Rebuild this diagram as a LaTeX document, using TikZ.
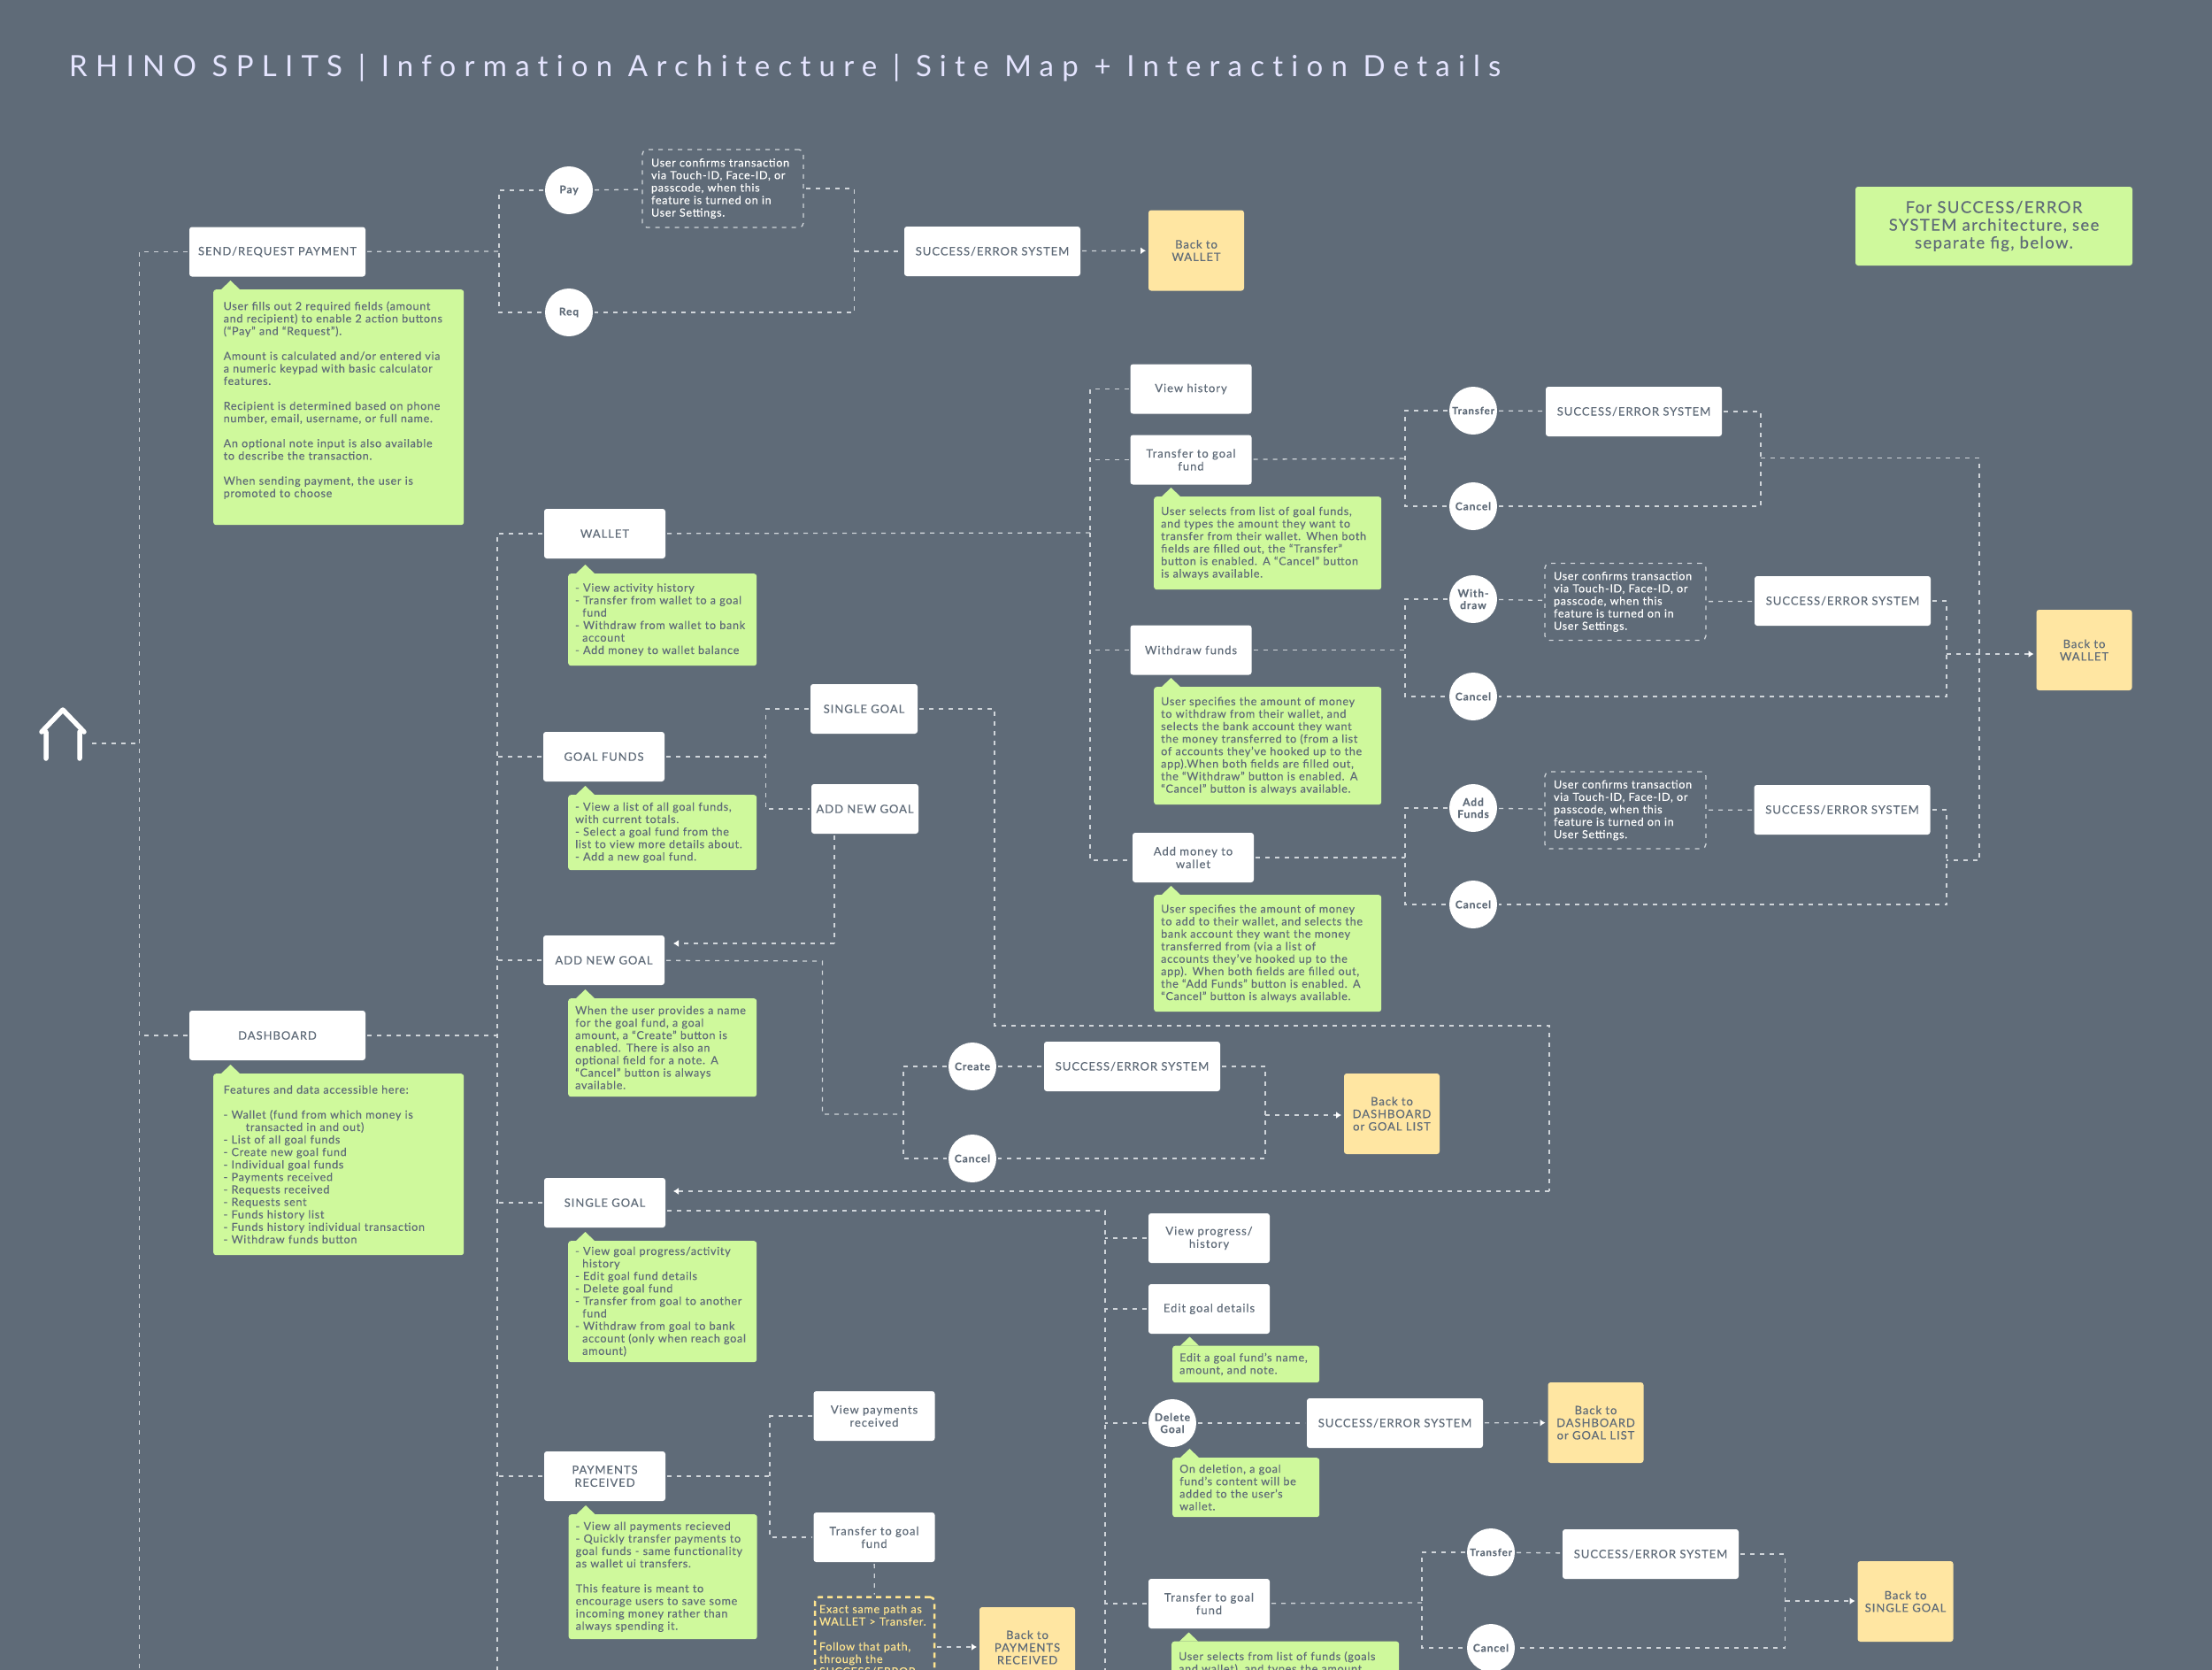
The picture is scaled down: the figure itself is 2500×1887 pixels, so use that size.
\documentclass[tikz,border=0pt]{standalone}
\usepackage{fontspec}
\setmainfont{Lato}[LetterSpace=5.5,FakeBold=0.15]
\newfontfamily\labelfont{Lato}[LetterSpace=7.5,FakeBold=0.15]
\newfontfamily\titlefont{Lato}[LetterSpace=28,Ligatures=NoCommon]
\definecolor{bgslate}{HTML}{5F6B78}
\definecolor{linegray}{HTML}{D0D5DA}
\definecolor{notegreen}{HTML}{CFF99C}
\definecolor{backyellow}{HTML}{FFE6A2}
\definecolor{dashyellow}{HTML}{FFE58F}
\newcommand{\ind}{\hspace*{8pt}}
\newcommand{\tip}[1]{\fill[notegreen] ([xshift=9pt]#1.north west) -- ++(10.5,-10) -- ++(10.5,10) -- cycle;}
\usetikzlibrary{arrows.meta}
\tikzset{
    link/.style={draw=linegray, line width=1.3pt, dash pattern=on 5pt off 6pt},
    linkarrow/.style={link, -{Latex[length=6pt,width=8pt,color=white]}, shorten >=1pt},
    pagebox/.style={fill=white, rounded corners=3pt, text=bgslate, align=center, font=\labelfont\fontsize{13}{14.5}\selectfont, inner sep=0pt, outer sep=2pt, minimum height=56pt},
    wide/.style={pagebox, minimum width=199pt},
    mid/.style={pagebox, minimum width=137pt},
    small/.style={pagebox, minimum width=121pt},
    actionc/.style={circle, fill=white, text=bgslate, align=center, font=\labelfont\fontsize{12}{13.5}\selectfont\bfseries, inner sep=0pt, outer sep=2pt, minimum size=54pt},
    backbox/.style={fill=backyellow, rounded corners=3pt, text=bgslate, align=center, font=\labelfont\fontsize{13}{14.2}\selectfont, inner sep=0pt, outer sep=2pt, minimum width=108pt, minimum height=91pt},
    notebox/.style 2 args={fill=notegreen, rounded corners=3pt, text=bgslate, align=left, anchor=north west, font=\fontsize{12.6}{14.1}\selectfont, inner xsep=8pt, inner ysep=0pt, text width=#1, minimum height=#2},
    confirm/.style={link, rounded corners=5pt, text=white, align=left, font=\fontsize{12.6}{14.1}\selectfont, inner xsep=10pt, inner ysep=0pt, text width=162pt, minimum height=87pt, outer sep=3pt}
}
\begin{document}
\begin{tikzpicture}[x=1pt, y=-1pt]
        \useasboundingbox (0,0) rectangle (2500,1887);
        \clip (0,0) rectangle (2500,1887);
        \fill[bgslate] (0,0) rectangle (2500,1887);
        \node[anchor=base west, inner sep=0pt, text=white!90!blue, font=\titlefont\fontsize{33}{36}\selectfont] (title) at (78,86) {RHINO SPLITS | Information Architecture | Site Map + Interaction Details};

        \draw[white, line width=5.5pt, line cap=round, line join=round] (52,857) -- (52,827) (90,857) -- (90,827) (47,827) -- (71,802) -- (95,827);
        \coordinate (home) at (104,840);
        \coordinate (rail) at (157.5,840);
        \coordinate (railend) at (157.5,1887);
        \coordinate (dash) at (562,1170);
        \coordinate (dashend) at (562,1887);
        \coordinate (goalrail) at (1249,1368);
        \coordinate (goalend) at (1249,1887);

        \node[wide] (send) at (313.5,284.5) {SEND/REQUEST PAYMENT};
        \node[notebox={260pt}{266pt}, inner xsep=11.5pt] (sendnote) at (241,327) {User fills out 2 required fields (amount\\and recipient) to enable 2 action buttons\\(“Pay” and “Request”).\\[14.1pt]Amount is calculated and/or entered via\\a numeric keypad with basic calculator\\features.\\[14.1pt]Recipient is determined based on phone\\number, email, username, or full name.\\[14.1pt]An optional note input is also available\\to describe the transaction.\\[14.1pt]When sending payment, the user is\\promoted to choose\\[4pt]~};
        \tip{sendnote}
        \node[actionc] (pay) at (643,215) {Pay};
        \node[actionc] (req) at (643,353) {Req};
        \node[confirm, minimum height=88pt] (payok) at (817,213) {User confirms transaction\\via Touch-ID, Face-ID, or\\passcode, when this\\feature is turned on in\\User Settings.};
        \node[wide] (sendses) at (1121.5,284) {SUCCESS/ERROR SYSTEM};
        \node[backbox] (sendback) at (1352,283) {Back to\\WALLET};
        \node[fill=notegreen, rounded corners=3pt, text=bgslate, align=center, font=\labelfont\fontsize{18.5}{20}\selectfont, inner sep=0pt, minimum width=313pt, minimum height=89pt] (sesnote) at (2253.5,255.5) {For SUCCESS/ERROR\\SYSTEM architecture, see\\separate fig, below.};

        \coordinate (jsend) at (564,284);
        \coordinate (jsendr) at (965.5,284);
        \draw[link] (home) -- (rail);
        \draw[link] (send) -| (rail) -- (railend);
        \draw[link] (send) -- (jsend);
        \draw[link] (pay) -| (jsend) |- (req);
        \draw[link] (pay) -- (payok);
        \draw[link] (payok) -| (jsendr) |- (req);
        \draw[link] (jsendr) -- (sendses);
        \draw[linkarrow] (sendses) -- (sendback);

        \node[mid] (wallet) at (683.5,603) {WALLET};
        \node[notebox={197pt}{104pt}] (walletnote) at (642,648) {- View activity history\\- Transfer from wallet to a goal\\\ind fund\\- Withdraw from wallet to bank\\\ind account\\- Add money to wallet balance};
        \tip{walletnote}
        \node[mid] (goalfunds) at (682.5,855) {GOAL FUNDS};
        \node[notebox={197pt}{85pt}] (fundsnote) at (642,898) {- View a list of all goal funds,\\with current totals.\\- Select a goal fund from the\\list to view more details about.\\- Add a new goal fund.};
        \tip{fundsnote}
        \node[small] (single) at (976.5,801) {SINGLE GOAL};
        \node[small] (addnew) at (977.5,914) {ADD NEW GOAL};
        \node[mid] (newgoal) at (682.5,1085) {ADD NEW GOAL};
        \node[notebox={197pt}{111pt}] (newnote) at (642,1128) {When the user provides a name\\for the goal fund, a goal\\amount, a “Create” button is\\enabled. There is also an\\optional field for a note. A\\“Cancel” button is always\\available.};
        \tip{newnote}
        \node[wide] (dashboard) at (313.5,1170) {DASHBOARD};
        \node[notebox={260pt}{205pt}, inner xsep=11.5pt] (dashnote) at (241,1213) {Features and data accessible here:\\[14.1pt]- Wallet (fund from which money is\\\hspace*{25pt}transacted in and out)\\- List of all goal funds\\- Create new goal fund\\- Individual goal funds\\- Payments received\\- Requests received\\- Requests sent\\- Funds history list\\- Funds history individual transaction\\- Withdraw funds button};
        \tip{dashnote}
        \node[mid] (singlegoal) at (683.5,1359) {SINGLE GOAL};
        \node[notebox={197pt}{137pt}] (singlenote) at (642,1402) {- View goal progress/activity\\\ind history\\- Edit goal fund details\\- Delete goal fund\\- Transfer from goal to another\\\ind fund\\- Withdraw from goal to bank\\\ind account (only when reach goal\\\ind amount)};
        \tip{singlenote}
        \node[mid] (payments) at (683.5,1668) {PAYMENTS\\RECEIVED};
        \node[notebox={197pt}{141pt}] (paynote) at (642.5,1711) {- View all payments recieved\\- Quickly transfer payments to\\goal funds - same functionality\\as wallet ui transfers.\\[14.1pt]This feature is meant to\\encourage users to save some\\incoming money rather than\\always spending it.};
        \tip{paynote}
        \node[mid] (viewpay) at (988,1600) {View payments\\received};
        \node[mid] (paytransfer) at (988,1737) {Transfer to goal\\fund};
        \node[confirm, draw=dashyellow, text=dashyellow, line width=2.5pt, dash pattern=on 6pt off 5pt, anchor=north, inner xsep=5pt, text width=125pt, minimum height=98pt, outer sep=3pt] (paypath) at (988.5,1801.5) {Exact same path as\\WALLET > Transfer.\\[14.1pt]Follow that path,\\through the\\SUCCESS/ERROR};
        \node[backbox, anchor=north] (payback) at (1161,1814) {Back to\\PAYMENTS\\RECEIVED};

        \coordinate (jfunds) at (865.5,855);
        \coordinate (jview) at (870,1668);
        \coordinate (addturn) at (943,1066);
        \coordinate (payturn) at (1059,1861);
        \draw[link] (dashboard) -| (rail);
        \draw[link] (dashboard) -- (dash);
        \draw[link] (wallet) -| (dash) -- (dashend);
        \draw[link] (goalfunds) -- (goalfunds -| dash);
        \draw[link] (newgoal) -- (newgoal -| dash);
        \draw[link] (singlegoal) -- (singlegoal -| dash);
        \draw[link] (payments) -- (payments -| dash);
        \draw[link] (goalfunds) -- (jfunds);
        \draw[link] (single) -| (jfunds) |- (addnew);
        \draw[link] (addturn |- addnew.south) -- (addturn);
        \draw[linkarrow] (addturn) -- (760,1066);
        \draw[link] (payments) -- (jview);
        \draw[link] (viewpay) -| (jview) |- (paytransfer);
        \draw[link] (paytransfer) -- (paypath);
        \draw[linkarrow] (payturn) -- (payback.west |- payturn);

        \node[mid] (history) at (1346,439.5) {View history};
        \node[mid] (totransfer) at (1346,519.5) {Transfer to goal\\fund};
        \node[notebox={241pt}{105pt}] (transfernote) at (1304,561) {User selects from list of goal funds,\\and types the amount they want to\\transfer from their wallet. When both\\fields are filled out, the “Transfer”\\button is enabled. A “Cancel” button\\is always available.};
        \tip{transfernote}
        \node[actionc, font=\labelfont\fontsize{11.5}{13}\selectfont\bfseries] (transfer) at (1665,464) {Transfer};
        \node[actionc] (cancela) at (1665,572) {Cancel};
        \node[wide] (sesa) at (1846.5,465) {SUCCESS/ERROR SYSTEM};
        \node[mid] (withdraw) at (1346,734.5) {Withdraw funds};
        \node[notebox={241pt}{133pt}] (withdrawnote) at (1304,776) {User specifies the amount of money\\to withdraw from their wallet, and\\selects the bank account they want\\the money transferred to (from a list\\of accounts they’ve hooked up to the\\app).When both fields are filled out,\\the “Withdraw” button is enabled. A\\“Cancel” button is always available.};
        \tip{withdrawnote}
        \node[actionc] (withc) at (1665,677) {With-\\draw};
        \node[confirm] (withok) at (1837,680) {User confirms transaction\\via Touch-ID, Face-ID, or\\passcode, when this\\feature is turned on in\\User Settings.};
        \node[wide] (sesb) at (2082.5,679) {SUCCESS/ERROR SYSTEM};
        \node[actionc] (cancelb) at (1665,787) {Cancel};
        \node[backbox] (walletback) at (2355.5,734.5) {Back to\\WALLET};
        \node[mid] (addmoney) at (1348.5,969) {Add money to\\wallet};
        \node[notebox={241pt}{132pt}] (addnote) at (1304,1011) {User specifies the amount of money\\to add to their wallet, and selects the\\bank account they want the money\\transferred from (via a list of\\accounts they’ve hooked up to the\\app). When both fields are filled out,\\the “Add Funds” button is enabled. A\\“Cancel” button is always available.};
        \tip{addnote}
        \node[actionc] (addc) at (1665,913) {Add\\Funds};
        \node[confirm] (addok) at (1837,915.5) {User confirms transaction\\via Touch-ID, Face-ID, or\\passcode, when this\\feature is turned on in\\User Settings.};
        \node[wide] (sesc) at (2082,915) {SUCCESS/ERROR SYSTEM};
        \node[actionc] (cancelc) at (1665,1022) {Cancel};

        \coordinate (jwallet) at (1232,602);
        \coordinate (jwalletend) at (1232,972);
        \coordinate (ja) at (1588,518);
        \coordinate (jar) at (1990,517.5);
        \coordinate (jb) at (1588,734.5);
        \coordinate (jbr) at (2200,739);
        \coordinate (jc) at (1588,969);
        \coordinate (jcr) at (2200,972);
        \coordinate (jback) at (2237,517.5);
        \draw[link] (wallet) -- (jwallet);
        \draw[link] (history) -| (jwallet);
        \draw[link] (jwallet) -- (jwalletend) -- (addmoney.west |- jwalletend);
        \draw[link] (totransfer) -- (totransfer -| jwallet);
        \draw[link] (withdraw) -- (withdraw -| jwallet);
        \draw[link] (totransfer) -- (ja);
        \draw[link] (transfer) -| (ja) |- (cancela);
        \draw[link] (transfer) -- (sesa);
        \draw[link] (sesa) -| (jar) |- (cancela);
        \draw[link] (jar) -- (jback) |- (jcr);
        \draw[link] (withdraw) -- (jb);
        \draw[link] (withc) -| (jb) |- (cancelb);
        \draw[link] (withc) -- (withok);
        \draw[link] (withok) -- (sesb);
        \draw[link] (sesb) -| (jbr) |- (cancelb);
        \draw[linkarrow] (jbr) -- (walletback.west |- jbr);
        \draw[link] (addmoney) -- (jc);
        \draw[link] (addc) -| (jc) |- (cancelc);
        \draw[link] (addc) -- (addok);
        \draw[link] (addok) -- (sesc);
        \draw[link] (sesc) -| (jcr) |- (cancelc);

        \node[actionc] (create) at (1099,1205) {Create};
        \node[actionc] (cancelg) at (1099,1309) {Cancel};
        \node[wide] (sesg) at (1279.5,1205) {SUCCESS/ERROR SYSTEM};
        \node[backbox] (dashback) at (1573,1258.5) {Back to\\DASHBOARD\\or GOAL LIST};
        \coordinate (jnew) at (929.5,1086);
        \coordinate (jnewb) at (929.5,1259);
        \coordinate (jcreate) at (1021,1259);
        \coordinate (jcreater) at (1430,1260);
        \coordinate (jsingle) at (1124,801);
        \coordinate (jloop) at (1124,1159);
        \coordinate (jloopr) at (1751,1159);
        \coordinate (jloopb) at (1751,1346);
        \draw[link] (newgoal) -- (jnew) -- (jnewb) -- (jcreate);
        \draw[link] (create) -| (jcreate) |- (cancelg);
        \draw[link] (create) -- (sesg);
        \draw[link] (sesg) -| (jcreater) |- (cancelg);
        \draw[linkarrow] (jcreater) -- (dashback.west |- jcreater);
        \draw[link] (single) -- (jsingle) -- (jloop) -- (jloopr) -- (jloopb);
        \draw[linkarrow] (jloopb) -- (760,1346);

        \node[mid] (progress) at (1366.5,1399) {View progress/\\history};
        \node[mid] (editgoal) at (1366.5,1479) {Edit goal details};
        \node[notebox={150pt}{41.5pt}] (editnote) at (1325,1520.5) {Edit a goal fund’s name,\\amount, and note.};
        \tip{editnote}
        \node[actionc] (deletec) at (1325,1608) {Delete\\Goal};
        \node[wide] (sesd) at (1576.5,1608) {SUCCESS/ERROR SYSTEM};
        \node[backbox] (goalback) at (1803.5,1607.5) {Back to\\DASHBOARD\\or GOAL LIST};
        \node[notebox={150pt}{67pt}] (deletenote) at (1325,1647) {On deletion, a goal\\fund’s content will be\\added to the user’s\\wallet.};
        \tip{deletenote}
        \node[mid] (goaltransfer) at (1366.5,1812) {Transfer to goal\\fund};
        \node[notebox={241pt}{49pt}] (goaltrnote) at (1324,1854.5) {User selects from list of funds (goals\\and wallet), and types the amount};
        \tip{goaltrnote}
        \node[actionc, font=\labelfont\fontsize{11.5}{13}\selectfont\bfseries] (transferd) at (1685,1754) {Transfer};
        \node[actionc] (canceld) at (1685,1862) {Cancel};
        \node[wide] (sese) at (1865.5,1756) {SUCCESS/ERROR SYSTEM};
        \node[backbox] (singleback) at (2153.5,1809.5) {Back to\\SINGLE GOAL};
        \coordinate (jd) at (1607,1811);
        \coordinate (jdr) at (2017.5,1809);
        \draw[link] (singlegoal.east |- goalrail) -- (goalrail) -- (goalend);
        \draw[link] (progress) -- (progress -| goalrail);
        \draw[link] (editgoal) -- (editgoal -| goalrail);
        \draw[link] (deletec) -- (deletec -| goalrail);
        \draw[link] (goaltransfer) -- (goaltransfer -| goalrail);
        \draw[link] (deletec) -- (sesd);
        \draw[linkarrow] (sesd) -- (goalback);
        \draw[link] (goaltransfer) -- (jd);
        \draw[link] (transferd) -| (jd) |- (canceld);
        \draw[link] (transferd) -- (sese);
        \draw[link] (sese) -| (jdr) |- (canceld);
        \draw[linkarrow] (jdr) -- (singleback.west |- jdr);
\end{tikzpicture}
\end{document}
